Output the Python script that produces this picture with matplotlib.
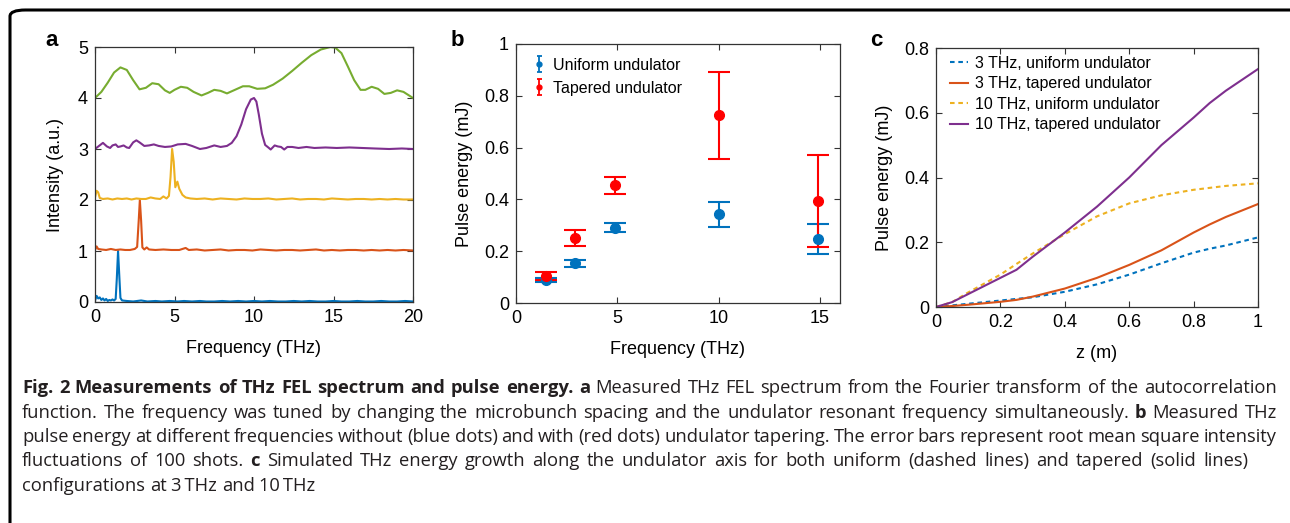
import numpy as np
import matplotlib
matplotlib.use("Agg")
import matplotlib.pyplot as plt
from matplotlib.patches import FancyBboxPatch

plt.rcParams['font.family'] = ['Liberation Sans', 'DejaVu Sans']

# panel a: spectra (THz, a.u., already offset)
f_blue = [0.0, 0.1, 0.2, 0.3, 0.4, 0.5, 0.6, 0.7, 0.8, 0.9, 1.0, 1.1, 1.2, 1.3, 1.37, 1.45, 1.53, 1.6, 1.7,
          2.0, 2.4, 2.9, 3.3, 3.8, 4.2, 4.7, 5.2, 5.6, 6.1, 6.6, 7.0, 7.5, 8.0, 8.5, 9.0, 9.5, 10.0, 10.5,
          11.0, 11.5, 12.0, 12.5, 13.0, 13.5, 14.0, 14.5, 15.0, 15.5, 16.0, 16.5, 17.0, 17.5, 18.0, 18.5,
          19.0, 19.5, 20.0]
i_blue = [0.03, 0.12, 0.07, 0.09, 0.04, 0.07, 0.03, 0.06, 0.02, 0.04, 0.03, 0.05, 0.03, 0.06, 0.45, 1.0, 0.5, 0.08, 0.03,
          0.02, 0.01, 0.03, 0.01, 0.02, 0.01, 0.02, 0.01, 0.02, 0.01, 0.02, 0.01, 0.01, 0.02, 0.01, 0.02, 0.01, 0.02, 0.01,
          0.02, 0.01, 0.01, 0.02, 0.01, 0.02, 0.01, 0.01, 0.02, 0.01, 0.01, 0.02, 0.01, 0.01, 0.02, 0.01,
          0.01, 0.02, 0.01]

f_orange = [0.0, 0.1, 0.2, 0.4, 0.7, 1.0, 1.3, 1.6, 1.9, 2.2, 2.5, 2.65, 2.75, 2.82, 2.9, 2.98, 3.1, 3.25, 3.4,
            3.8, 4.3, 4.8, 5.3, 5.7, 5.9, 6.4, 6.9, 7.4, 7.9, 8.4, 8.9, 9.4, 9.9, 10.4, 10.9, 11.4, 11.9,
            12.4, 12.9, 13.4, 13.9, 14.4, 14.9, 15.4, 15.9, 16.4, 16.9, 17.4, 17.9, 18.4, 18.9, 19.4, 20.0]
i_orange = [1.02, 1.09, 1.04, 1.03, 1.02, 1.04, 1.02, 1.03, 1.02, 1.02, 1.04, 1.08, 1.6, 2.0, 1.6, 1.07, 1.03, 1.07, 1.03,
            1.02, 1.03, 1.02, 1.02, 1.06, 1.02, 1.03, 1.01, 1.02, 1.03, 1.01, 1.02, 1.02, 1.01, 1.03, 1.02, 1.01, 1.02,
            1.02, 1.01, 1.02, 1.03, 1.01, 1.02, 1.01, 1.02, 1.02, 1.01, 1.02, 1.01, 1.02, 1.01, 1.02, 1.01]

f_yellow = [0.0, 0.1, 0.2, 0.3, 0.5, 0.8, 1.1, 1.4, 1.7, 2.0, 2.3, 2.6, 2.9, 3.2, 3.5, 3.8, 4.1, 4.3, 4.5, 4.65,
            4.75, 4.85, 4.95, 5.05, 5.18, 5.3, 5.5, 5.7, 6.0, 6.4, 6.9, 7.4, 7.9, 8.4, 8.9, 9.4, 9.9, 10.4,
            10.9, 11.4, 11.9, 12.4, 12.9, 13.4, 13.9, 14.4, 14.9, 15.4, 15.9, 16.4, 16.9, 17.4, 17.9, 18.4,
            18.9, 19.4, 20.0]
i_yellow = [2.05, 2.18, 2.15, 2.04, 2.02, 2.03, 2.01, 2.03, 2.02, 2.03, 2.01, 2.03, 2.02, 2.02, 2.05, 2.03, 2.02, 2.07, 2.03, 2.08,
            2.45, 3.0, 2.75, 2.25, 2.36, 2.22, 2.10, 2.05, 2.03, 2.02, 2.03, 2.01, 2.03, 2.02, 2.01, 2.03, 2.02, 2.02,
            2.03, 2.01, 2.02, 2.03, 2.01, 2.02, 2.02, 2.01, 2.03, 2.02, 2.01, 2.02, 2.02, 2.01, 2.02, 2.01,
            2.02, 2.01, 2.01]

f_purple = [0.0, 0.25, 0.5, 0.75, 0.95, 1.1, 1.3, 1.45, 1.6, 1.8, 2.0, 2.15, 2.4, 2.6, 2.8, 3.1, 3.4, 3.7, 4.0,
            4.4, 4.8, 5.2, 5.7, 6.1, 6.6, 7.0, 7.5, 7.9, 8.3, 8.6, 8.9, 9.2, 9.5, 9.8, 10.0, 10.15, 10.3, 10.5,
            10.7, 10.9, 11.05, 11.3, 11.5, 11.7, 11.9, 12.1, 12.4, 12.8, 13.3, 13.8, 14.5, 15.2, 16.0, 16.8,
            17.6, 18.5, 19.3, 20.0]
i_purple = [3.00, 3.06, 3.12, 3.05, 3.02, 3.07, 3.09, 3.04, 3.05, 3.07, 3.03, 3.02, 3.13, 3.17, 3.13, 3.06, 3.07, 3.09, 3.06,
            3.04, 3.05, 3.09, 3.10, 3.06, 3.00, 3.02, 3.07, 3.04, 3.06, 3.12, 3.25, 3.48, 3.78, 3.97, 4.00, 3.93, 3.68, 3.30,
            3.08, 3.03, 2.99, 3.07, 3.05, 3.04, 2.99, 3.04, 3.04, 3.02, 3.04, 3.02, 3.03, 3.02, 3.03, 3.02,
            3.01, 3.00, 3.01, 3.00]

f_green = [0.0, 0.4, 0.8, 1.2, 1.6, 2.0, 2.4, 2.8, 3.2, 3.6, 4.0, 4.4, 4.7, 5.0, 5.4, 5.8, 6.2, 6.7, 7.1, 7.5,
           7.9, 8.3, 8.8, 9.3, 9.7, 10.2, 10.7, 11.2, 11.8, 12.4, 13.0, 13.6, 14.2, 14.8, 15.1, 15.5, 15.9,
           16.3, 16.7, 17.0, 17.4, 17.8, 18.2, 18.6, 19.0, 19.4, 20.0]
i_green = [4.00, 4.12, 4.30, 4.50, 4.60, 4.55, 4.35, 4.17, 4.20, 4.29, 4.27, 4.15, 4.10, 4.16, 4.22, 4.20, 4.12, 4.05, 4.10, 4.16,
           4.14, 4.09, 4.16, 4.23, 4.23, 4.18, 4.19, 4.26, 4.38, 4.53, 4.69, 4.84, 4.95, 5.00, 4.99, 4.88, 4.62,
           4.35, 4.16, 4.16, 4.22, 4.18, 4.08, 4.10, 4.15, 4.12, 4.00]

# panel b: pulse energy (mJ)
freq_b = [1.5, 2.9, 4.9, 10.0, 14.9]
uni_e = [0.090, 0.153, 0.290, 0.343, 0.248]
uni_lo = [0.080, 0.140, 0.275, 0.295, 0.190]
uni_hi = [0.097, 0.167, 0.310, 0.390, 0.305]
tap_e = [0.103, 0.250, 0.455, 0.725, 0.393]
tap_lo = [0.088, 0.220, 0.422, 0.557, 0.218]
tap_hi = [0.120, 0.280, 0.488, 0.892, 0.570]

# panel c: simulated growth
z_c = [0.0, 0.05, 0.1, 0.2, 0.25, 0.3, 0.4, 0.5, 0.6, 0.7, 0.8, 0.85, 0.9, 1.0]
e3_uni = [0.0, 0.005, 0.010, 0.020, 0.025, 0.030, 0.047, 0.070, 0.100, 0.135, 0.168, 0.180, 0.190, 0.215]
e3_tap = [0.0, 0.003, 0.007, 0.016, 0.022, 0.032, 0.057, 0.090, 0.130, 0.175, 0.230, 0.255, 0.278, 0.318]
e10_uni = [0.0, 0.015, 0.045, 0.100, 0.133, 0.165, 0.225, 0.280, 0.320, 0.345, 0.362, 0.368, 0.374, 0.382]
e10_tap = [0.0, 0.015, 0.040, 0.090, 0.115, 0.155, 0.230, 0.310, 0.400, 0.500, 0.585, 0.630, 0.668, 0.735]

c_blue = '#0072BD'
c_orange = '#D95319'
c_yellow = '#EDB120'
c_purple = '#7E2F8E'
c_green = '#77AC30'
axcol = '#333333'
dash = (0, (2.2, 1.8))

fig = plt.figure(figsize=(12.9, 5.23), dpi=100)

box = FancyBboxPatch((10 / 1290, -0.1), 1.2, 0.1 + 513 / 523, boxstyle='round,pad=0,rounding_size=0.012',
                     transform=fig.transFigure, fill=False, lw=2.2, ec='black', clip_on=False)
fig.patches.append(box)


def style(ax):
    ax.tick_params(direction='in', top=True, right=True, length=4, width=0.8, color=axcol,
                   labelsize=13, pad=5, labelcolor='black')
    for s in ax.spines.values():
        s.set_color(axcol)
        s.set_linewidth(0.9)


# a
ax = fig.add_axes([95 / 1290, 221 / 523, 318 / 1290, 255 / 523])
ax.plot(f_blue, i_blue, color=c_blue, lw=1.5)
ax.plot(f_orange, i_orange, color=c_orange, lw=1.5)
ax.plot(f_yellow, i_yellow, color=c_yellow, lw=1.5)
ax.plot(f_purple, i_purple, color=c_purple, lw=1.5)
ax.plot(f_green, i_green, color=c_green, lw=1.5)
ax.set_xlim(0, 20)
ax.set_ylim(0, 5)
ax.set_xticks([0, 5, 10, 15, 20])
ax.set_yticks([0, 1, 2, 3, 4, 5])
ax.set_xlabel('Frequency (THz)', fontsize=13, labelpad=10)
ax.set_ylabel('Intensity (a.u.)', fontsize=13, labelpad=10)
style(ax)

# b
ax = fig.add_axes([516 / 1290, 220 / 523, 324 / 1290, 259 / 523])
e_u = [np.array(uni_e) - np.array(uni_lo), np.array(uni_hi) - np.array(uni_e)]
e_t = [np.array(tap_e) - np.array(tap_lo), np.array(tap_hi) - np.array(tap_e)]
ax.errorbar(freq_b, uni_e, yerr=e_u, fmt='o', color=c_blue, ms=7, capsize=8, elinewidth=1.5,
            capthick=1.5)
ax.errorbar(freq_b, tap_e, yerr=e_t, fmt='o', color='#FF0000', ms=7, capsize=8, elinewidth=1.5,
            capthick=1.5)
# small legend handles like the original
h_u = ax.errorbar([np.nan], [np.nan], yerr=[[np.nan], [np.nan]], fmt='o', color=c_blue, ms=3.5,
                  capsize=1.8, elinewidth=1.3, capthick=1.3, label='Uniform undulator')
h_t = ax.errorbar([np.nan], [np.nan], yerr=[[np.nan], [np.nan]], fmt='o', color='#FF0000', ms=3.5,
                  capsize=1.8, elinewidth=1.3, capthick=1.3, label='Tapered undulator')
ax.set_xlim(0, 16)
ax.set_ylim(0, 1)
ax.set_xticks([0, 5, 10, 15])
ax.set_yticks([0, 0.2, 0.4, 0.6, 0.8, 1])
ax.set_yticklabels(['0', '0.2', '0.4', '0.6', '0.8', '1'])
ax.set_xlabel('Frequency (THz)', fontsize=13, labelpad=10)
ax.set_ylabel('Pulse energy (mJ)', fontsize=13, labelpad=8)
ax.legend(handles=[h_u, h_t], loc='upper left', frameon=False, fontsize=11.5, handlelength=0.5,
          handletextpad=0.6, borderaxespad=0.4, labelspacing=0.5, bbox_to_anchor=(0.02, 0.995))
style(ax)

# c
ax = fig.add_axes([936 / 1290, 216 / 523, 322 / 1290, 259 / 523])
ax.plot(z_c, e3_uni, color=c_blue, lw=1.5, ls=dash, label='3 THz, uniform undulator')
ax.plot(z_c, e3_tap, color=c_orange, lw=1.5, label='3 THz, tapered undulator')
ax.plot(z_c, e10_uni, color=c_yellow, lw=1.5, ls=dash, label='10 THz, uniform undulator')
ax.plot(z_c, e10_tap, color=c_purple, lw=1.5, label='10 THz, tapered undulator')
ax.set_xlim(0, 1)
ax.set_ylim(0, 0.8)
ax.set_xticks([0, 0.2, 0.4, 0.6, 0.8, 1])
ax.set_xticklabels(['0', '0.2', '0.4', '0.6', '0.8', '1'])
ax.set_yticks([0, 0.2, 0.4, 0.6, 0.8])
ax.set_yticklabels(['0', '0.2', '0.4', '0.6', '0.8'])
ax.set_xlabel('z (m)', fontsize=13, labelpad=10)
ax.set_ylabel('Pulse energy (mJ)', fontsize=13, labelpad=8)
ax.legend(loc='upper left', frameon=False, fontsize=11.5, handlelength=1.1, handletextpad=0.45,
          borderaxespad=0.2, labelspacing=0.35, bbox_to_anchor=(0.014, 1.008))
style(ax)

fig.text(52 / 1290, 1 - 40 / 523, 'a', fontsize=16, fontweight='bold', ha='center', va='center')
fig.text(457 / 1290, 1 - 40 / 523, 'b', fontsize=16, fontweight='bold', ha='center', va='center')
fig.text(876 / 1290, 1 - 40 / 523, 'c', fontsize=16, fontweight='bold', ha='center', va='center')

# caption, justified word by word
cap_lines = [
    [('Fig. 2 Measurements of THz FEL spectrum and pulse energy.', True), ('a', True),
     ('Measured THz FEL spectrum from the Fourier transform of the autocorrelation', False)],
    [('function. The frequency was tuned by changing the microbunch spacing and the undulator resonant frequency simultaneously.', False),
     ('b', True), ('Measured THz', False)],
    [('pulse energy at different frequencies without (blue dots) and with (red dots) undulator tapering. The error bars represent root mean square intensity', False)],
    [('fluctuations of 100 shots.', False), ('c', True),
     ('Simulated THz energy growth along the undulator axis for both uniform (dashed lines) and tapered (solid lines)', False)],
    [('configurations at 3\u2009THz and 10\u2009THz', False)],
]
cap_right = [1277, 1277, 1277, 1248, None]
cap_y = [388, 413, 437, 461, 486]
cap_font = ['Open Sans', 'DejaVu Sans']
cap_size = 13.2
x0 = 22

renderer = fig.canvas.get_renderer()
sp = fig.text(0, 0, 'a a', fontsize=cap_size, family=cap_font)
sp2 = fig.text(0, 0, 'aa', fontsize=cap_size, family=cap_font)
space = sp.get_window_extent(renderer).width - sp2.get_window_extent(renderer).width
sp.remove()
sp2.remove()
for line, yy, x1 in zip(cap_lines, cap_y, cap_right):
    words = []
    for txt, bold in line:
        for w in txt.split(' '):
            words.append((w, bold))
    arts = []
    widths = []
    for w, bold in words:
        t = fig.text(0, 1 - yy / 523, w, fontsize=cap_size, family=cap_font,
                     fontweight='bold' if bold else 'normal', color='#231F20', va='center', ha='left')
        arts.append(t)
        widths.append(t.get_window_extent(renderer).width)
    gap = (x1 - x0 - sum(widths)) / (len(words) - 1) if x1 else space
    x = x0
    for t, wd in zip(arts, widths):
        t.set_x(x / 1290)
        x += wd + gap

fig.savefig('out.png', dpi=100)
